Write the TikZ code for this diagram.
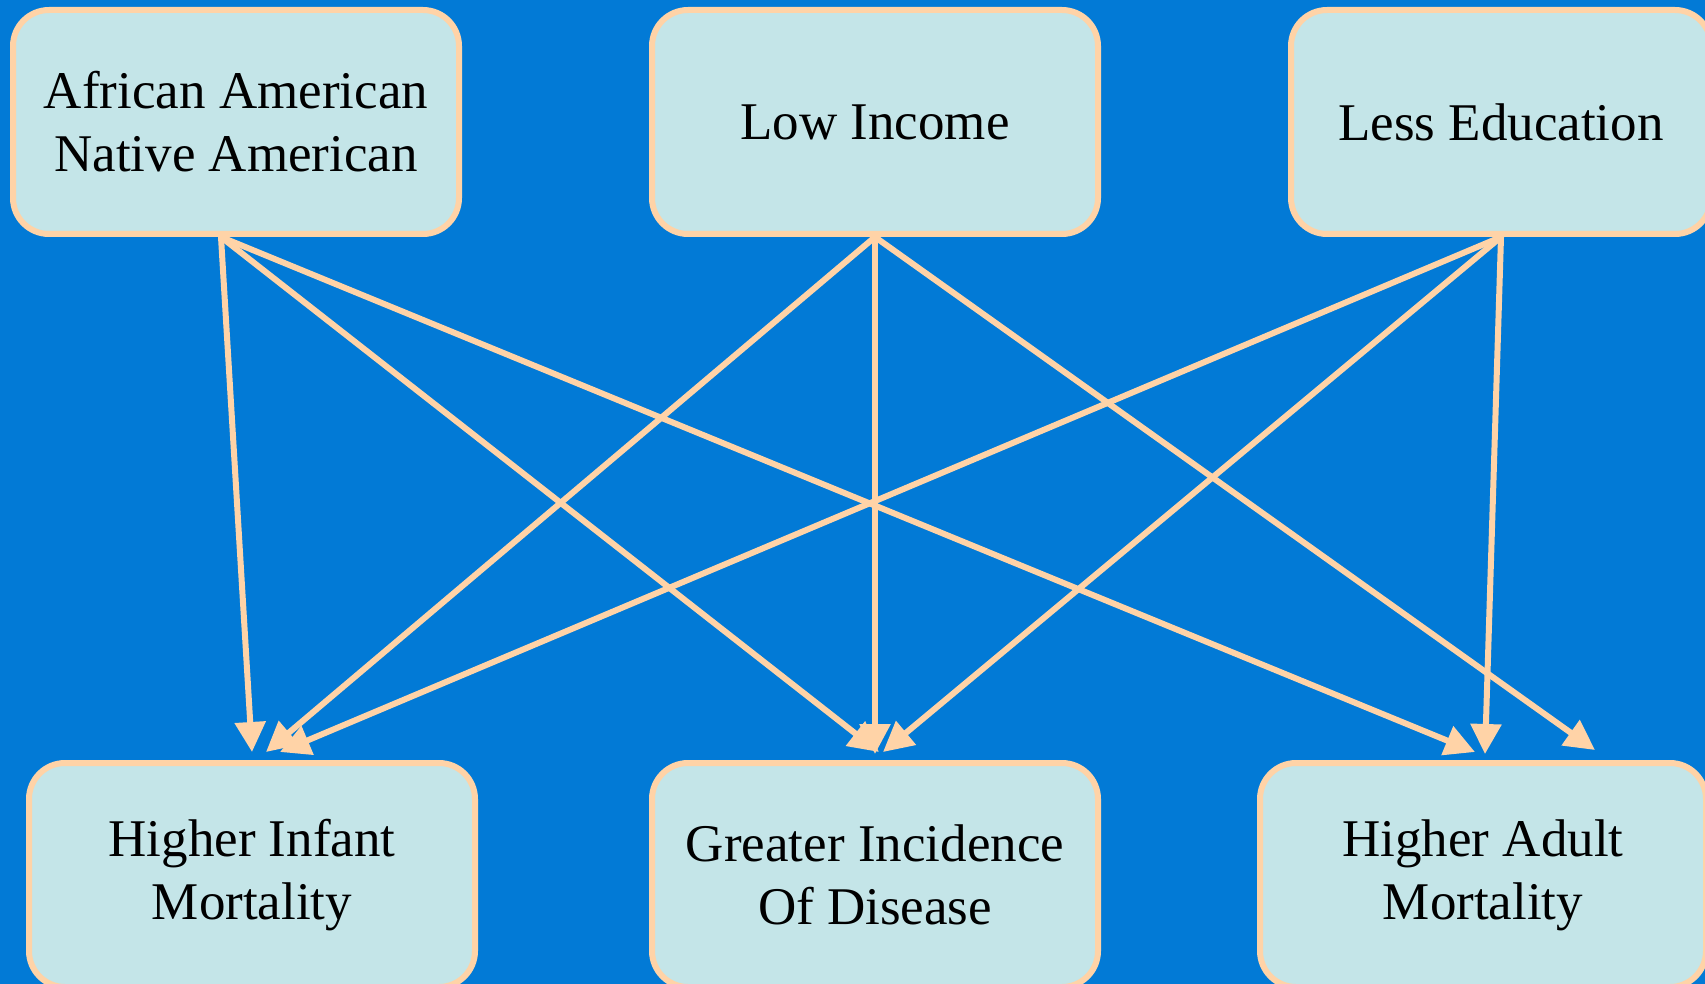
\documentclass[tikz,border=0pt]{standalone}
\usepackage{fontspec}
\setmainfont{Liberation Serif}
\usetikzlibrary{arrows.meta}
\definecolor{bgblue}{HTML}{027AD6}
\definecolor{boxfill}{HTML}{C4E5E8}
\definecolor{peach}{HTML}{FFD3A7}
\tikzstyle{factorbox} = [draw=peach, fill=boxfill, line width=6pt,
    rectangle, rounded corners=36pt, minimum width=446pt, minimum height=224pt,
    align=center, font=\fontsize{53}{63}\selectfont]
\tikzstyle{link} = [draw=peach, line width=6pt, -{Triangle[length=30pt,width=30pt]}]

\begin{document}
\begin{tikzpicture}[x=1pt,y=-1pt]
                \fill[bgblue] (0,0) rectangle (1705,984);
                \useasboundingbox (0,0) rectangle (1705,984);
                \node [factorbox] (race) at (236,122) {African American\\Native American};
                \node [factorbox] (income) at (875,122) {Low Income};
                \node [factorbox, minimum width=420pt] (educ) at (1501,122) {Less Education};
                \node [factorbox] (infant) at (252,875) {Higher Infant\\Mortality};
                \node [factorbox] (disease) at (875,875) {Greater Incidence\\Of Disease};
                \node [factorbox] (adult) at (1483,875) {Higher Adult\\Mortality};
                \draw[link] ([xshift=-15pt]race.south) -- ([yshift=8pt]infant.north);
                \draw[link] ([xshift=-15pt]race.south) -- ([xshift=4pt,yshift=8pt]disease.north);
                \draw[link] ([xshift=-15pt]race.south) -- ([xshift=-8pt,yshift=8pt]adult.north);
                \draw[link] (income.south) -- ([xshift=14pt,yshift=8pt]infant.north);
                \draw[link] (income.south) -- ([yshift=6pt]disease.north);
                \draw[link] (income.south) -- ([xshift=112pt,yshift=10pt]adult.north);
                \draw[link] (educ.south) -- ([xshift=28pt,yshift=8pt]infant.north);
                \draw[link] (educ.south) -- ([xshift=8pt,yshift=8pt]disease.north);
                \draw[link] (educ.south) -- ([xshift=2pt,yshift=6pt]adult.north);
            \end{tikzpicture}
\end{document}
